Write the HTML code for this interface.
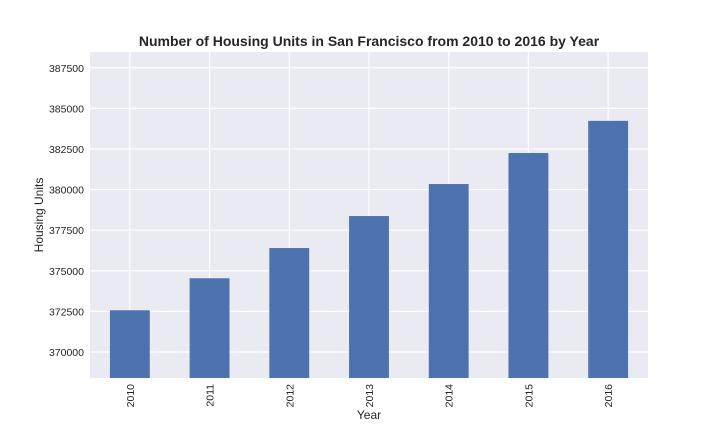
<!DOCTYPE html>
<html><head><meta charset="utf-8"><style>
body{margin:0;background:#fff;font-family:"Liberation Sans",Arial,sans-serif}
</style></head><body>
<svg id="chart" width="720" height="432" xmlns="http://www.w3.org/2000/svg" font-family="Liberation Sans, Arial, sans-serif"></svg>
<script>
const categories = ["2010","2011","2012","2013","2014","2015","2016"];
const values = [372570,374540,376400,378370,380340,382250,384230];
const yTicks = [370000,372500,375000,377500,380000,382500,385000,387500];
const yMin = 368400, yMax = 388470;
const L=90,R=648,T=52,B=378;
const svg=document.getElementById('chart');
const NS="http://www.w3.org/2000/svg";
function y(v){return B-(v-yMin)/(yMax-yMin)*(B-T);}
const band=(R-L)/categories.length;
function x(i){return L+band*(i+0.5);}
function mk(tag,attrs,parent){const e=document.createElementNS(NS,tag);for(const k in attrs)e.setAttribute(k,attrs[k]);(parent||svg).appendChild(e);return e;}
const bg=mk('rect',{x:L,y:T,width:R-L,height:B-T,fill:'#eaeaf2'});


yTicks.forEach(t=>{
  const g=mk('line',{x1:L,x2:R,y1:y(t),y2:y(t),stroke:'#fff','stroke-width':1.2});
  
  
  const lb=mk('text',{x:L-6,y:y(t)+4,'text-anchor':'end','font-size':10.5,fill:'#262626'});
  lb.textContent=t;
  
  
});
categories.forEach((c,i)=>{
  const g=mk('line',{x1:x(i),x2:x(i),y1:T,y2:B,stroke:'#fff','stroke-width':1.2});
  
  
});
categories.forEach((c,i)=>{
  const w=band*0.5;
  const b=mk('rect',{x:x(i)-w/2,y:y(values[i]),width:w,height:B-y(values[i]),fill:'#4c72b0'});
  
  
  const lb=mk('text',{x:0,y:0,'text-anchor':'end','font-size':10.5,fill:'#262626',transform:`translate(${x(i)+4},${B+6}) rotate(-90)`});
  lb.textContent=c;
  
  
});
const title=mk('text',{x:(L+R)/2,y:46,'text-anchor':'middle','font-size':14,'font-weight':'bold',fill:'#262626'});
title.textContent='Number of Housing Units in San Francisco from 2010 to 2016 by Year';


const xt=mk('text',{x:(L+R)/2,y:419,'text-anchor':'middle','font-size':12,fill:'#262626'});
xt.textContent='Year';


const yt=mk('text',{x:0,y:0,'text-anchor':'middle','font-size':12,fill:'#262626',transform:`translate(43,${(T+B)/2}) rotate(-90)`});
yt.textContent='Housing Units';


</script>
</body></html>
